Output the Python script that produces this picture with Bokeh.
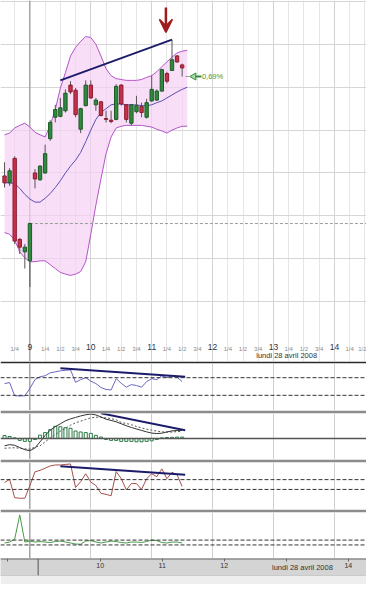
import math
from bokeh.plotting import figure
from bokeh.layouts import column
from bokeh.models import (Range1d, LinearAxis, FixedTicker, Grid, Span, Label,
                          Arrow, VeeHead, ColumnDataSource)
from bokeh.embed import file_html
from bokeh.resources import INLINE

FONT = "Liberation Sans"

# ---------------- data ----------------
times = ["25/04 17:05", "25/04 17:10", "25/04 17:15", "25/04 17:20", "25/04 17:25",
         "28/04 09:00", "28/04 09:05", "28/04 09:10", "28/04 09:15", "28/04 09:20",
         "28/04 09:25", "28/04 09:30", "28/04 09:35", "28/04 09:40", "28/04 09:45",
         "28/04 09:50", "28/04 09:55", "28/04 10:00", "28/04 10:05", "28/04 10:10",
         "28/04 10:15", "28/04 10:20", "28/04 10:25", "28/04 10:30", "28/04 10:35",
         "28/04 10:40", "28/04 10:45", "28/04 10:50", "28/04 10:55", "28/04 11:00",
         "28/04 11:05", "28/04 11:10", "28/04 11:15", "28/04 11:20", "28/04 11:25",
         "28/04 11:30"]

opens = [4979.3, 4977.7, 4983.4, 4964.5, 4961.6,
         4959.5, 4980.0, 4978.4, 4980.0, 4988.0, 4993.0, 4993.2, 4994.5, 5000.5, 4999.3,
         4990.2, 4995.7, 5000.5, 4995.9, 4996.6, 4992.7, 4992.3, 4992.5, 5000.5, 4995.9,
         4991.6, 4994.3, 4995.5, 4993.0, 4996.8, 4997.0, 4999.1, 5003.2, 5003.9, 5007.3, 5005.2]
highs = [4982.5, 4981.1, 4983.9, 4964.8, 4963.4,
         4968.4, 4980.9, 4981.8, 4986.6, 4992.3, 4995.9, 4997.5, 4999.5, 5001.4, 4999.8,
         4995.2, 5001.6, 5001.6, 4997.5, 4996.8, 4994.5, 4994.5, 5000.7, 5000.7, 4996.1,
         4996.1, 4998.0, 4996.4, 4997.3, 5002.7, 4999.5, 5004.3, 5003.6, 5011.1, 5007.5, 5005.5]
lows = [4976.6, 4977.0, 4963.4, 4961.1, 4957.7,
        4953.4, 4976.4, 4978.2, 4979.8, 4987.5, 4991.8, 4993.0, 4994.1, 4998.4, 4993.0,
        4989.3, 4995.5, 4997.3, 4994.5, 4993.2, 4991.8, 4991.6, 4992.3, 4995.7, 4991.8,
        4991.1, 4993.9, 4993.0, 4992.7, 4996.6, 4996.8, 4998.9, 5000.9, 5003.9, 5005.7, 5002.5]
closes = [4977.7, 4980.5, 4964.1, 4962.7, 4962.7,
          4968.2, 4978.6, 4981.6, 4984.5, 4991.8, 4994.8, 4995.2, 4998.6, 4998.9, 4993.6,
          4995.0, 5000.5, 4997.5, 4997.0, 4993.4, 4992.5, 4992.0, 5000.2, 4996.1, 4992.5,
          4995.9, 4995.7, 4994.1, 4996.4, 4999.5, 4999.1, 5004.1, 5001.4, 5006.4, 5005.9, 5004.5]

band_times = times + ["28/04 11:35"]
boll_upper = [4988.9, 4989.3, 4990.5, 4991.1, 4991.6,
              4990.7, 4989.5, 4988.9, 4988.4, 4991.1, 4994.8, 4999.8, 5003.4, 5007.3, 5009.3,
              5010.7, 5011.8, 5011.6, 5010.0, 5007.3, 5004.3, 5002.7, 5002.0, 5001.8, 5001.6,
              5001.6, 5001.6, 5001.8, 5002.3, 5002.7, 5003.6, 5004.8, 5005.9, 5007.0, 5008.0,
              5008.4, 5008.6]
boll_mid = [4977.7, 4977.7, 4977.5, 4976.4, 4975.0,
            4973.9, 4973.2, 4973.2, 4974.1, 4975.2, 4976.6, 4978.2, 4980.0, 4981.6, 4983.0,
            4984.8, 4987.3, 4990.0, 4992.5, 4994.1, 4995.0, 4995.9, 4996.1, 4996.1, 4995.9,
            4995.9, 4995.9, 4995.7, 4995.7, 4995.9, 4996.4, 4996.8, 4997.5, 4998.2, 4998.9,
            4999.5, 5000.0]
boll_lower = [4966.1, 4965.7, 4964.3, 4961.6, 4960.2,
              4959.3, 4959.3, 4959.5, 4959.5, 4958.6, 4957.7, 4956.8, 4956.4, 4956.1, 4956.4,
              4957.0, 4959.3, 4965.7, 4972.5, 4978.6, 4984.5, 4988.4, 4990.5, 4990.9, 4991.1,
              4991.1, 4991.1, 4991.1, 4990.9, 4990.7, 4990.2, 4989.8, 4989.3, 4990.0, 4990.5,
              4990.9, 4990.9]

prev_close = 4968.2
last_price = 5002.5
change_text = "0,69%"
date_text = "lundi 28 avril 2008"

trend_main_t = ["28/04 09:30", "28/04 11:20"]
trend_main_v = [5001.6, 5011.1]
arrow_time = "28/04 11:14"
arrow_from, arrow_to = 5018.6, 5012.8

rsi = [56.7, 58.9, 29.0, 28.5, 29.0,
       45.6, 65.6, 72.2, 74.4, 81.1, 83.3, 85.6, 86.7, 87.8, 59.6,
       65.6, 70.0, 62.2, 56.7, 47.8, 43.3, 42.2, 67.8, 57.3, 48.4,
       54.4, 52.2, 48.4, 61.1, 67.8, 65.6, 74.4, 70.0, 74.4, 71.1, 61.1]
rsi_levels = [70, 30]
trend_rsi_t = ["28/04 09:30", "28/04 11:33"]
trend_rsi_v = [91.6, 72.2]

macd = [-3.75, -3.15, -3.5, -4.65, -5.75,
        -6.25, -4.85, -1.75, 1.5, 4.25, 6.0, 7.5, 9.0, 10.0, 10.75,
        11.5, 12.1, 12.5, 12.0, 11.0, 9.85, 9.2, 8.5, 7.5, 6.5,
        5.6, 4.85, 4.1, 3.35, 2.75, 2.5, 2.7, 3.35, 3.85, 4.1, 4.15]
macd_signal = [-5.0, -4.85, -4.75, -5.0, -5.3,
               -5.5, -4.4, -3.75, -1.75, 0.25, 2.0, 3.75, 5.25, 6.75, 8.0,
               8.85, 9.75, 10.5, 10.85, 10.75, 10.5, 10.15, 9.5, 8.15, 7.65,
               7.0, 6.1, 5.4, 4.75, 4.25, 3.75, 3.4, 3.2, 3.3, 3.5, 3.6]
macd_hist = [1.5, 1.0, 0.3, -1.0, -1.5,
             -1.5, -0.5, 1.7, 3.0, 4.5, 6.2, 6.0, 5.5, 5.2, 3.8,
             3.3, 3.0, 2.6, 1.6, 0.7, -0.5, -1.0, -1.0, -1.5, -1.5,
             -1.5, -1.7, -1.7, -1.5, -1.2, -0.5, 0.3, 0.5, 0.6, 0.7, 0.7]
trend_macd_t = ["28/04 10:10", "28/04 11:33"]
trend_macd_v = [12.85, 4.15]

osc = [40, 106, -270, -280, -280,
       -20, 260, 290, 334, 380, 400, 400, 410, 420, -60,
       60, 220, 50, -20, -180, -200, -230, 266, 120, -110,
       20, 20, -100, 120, 220, 160, 320, 120, 250, 200, -40]
osc_levels = [100, -100]
trend_osc_t = ["28/04 09:30", "28/04 11:33"]
trend_osc_v = [374, 200]

vol = [28, 30, 36, 86, 30,
       32, 30, 31, 30, 29, 31, 32, 30, 28, 26,
       25.4, 32, 33, 30, 28, 30, 32, 31, 29, 28,
       30, 30, 29, 31, 34, 33, 29, 28, 30, 30, 28]
vol_levels = [34, 24]

hour_ticks = ["25/04 17:00", "28/04 09:00", "28/04 10:00", "28/04 11:00", "28/04 12:00",
              "28/04 13:00", "28/04 14:00"]
hour_labels = ["17", "9", "10", "11", "12", "13", "14"]
quarter_ticks = ["25/04 17:15", "28/04 09:15", "28/04 09:30", "28/04 09:45",
                 "28/04 10:15", "28/04 10:30", "28/04 10:45", "28/04 11:15", "28/04 11:30",
                 "28/04 11:45", "28/04 12:15", "28/04 12:30", "28/04 12:45", "28/04 13:15",
                 "28/04 13:30", "28/04 13:45", "28/04 14:15", "28/04 14:30"]
quarter_labels = ["1/4", "1/4", "1/2", "3/4", "1/4", "1/2", "3/4", "1/4", "1/2", "3/4",
                  "1/4", "1/2", "3/4", "1/4", "1/2", "3/4", "1/4", "1/2"]
price_grid = [4950, 4960, 4970, 4980, 4990, 5000, 5010, 5020]

nav_ticks = [8.5, 10, 11, 12, 13, 14]
nav_labels = ["", "10", "11", "12", "", "14"]
nav_date_hour = 13.26


# ---------------- helpers ----------------
def smin(t):
    """session minutes: 28/04 09:00 -> 0, previous session glued on the left"""
    day, hm = t.split()
    h, m = (int(v) for v in hm.split(":"))
    if day == "25/04":
        return h * 60 + m - (17 * 60 + 30)
    return h * 60 + m - 9 * 60


x = [smin(t) for t in times]
bx = [smin(t) for t in band_times]
hx = [smin(t) for t in hour_ticks]
qx = [smin(t) for t in quarter_ticks]

W = 366
xr = Range1d(-28.98, 331.64)


def base_fig(height, yr, top_border=0, border_color="white"):
    f = figure(width=W, height=height, x_range=xr, y_range=yr,
               x_axis_type=None, y_axis_type=None, toolbar_location=None,
               output_backend="svg", min_border=0, min_border_top=top_border,
               border_fill_color=border_color, outline_line_color=None,
               background_fill_color="white")
    return f


# ---------------- main price panel ----------------
main = base_fig(361, Range1d(4936.02, 5020.23))
main.add_layout(Grid(dimension=0, ticker=FixedTicker(ticks=hx, minor_ticks=qx),
                     grid_line_color="#d2d2d2", minor_grid_line_color="#e6e6e6"))
main.add_layout(Grid(dimension=1, ticker=FixedTicker(ticks=price_grid),
                     grid_line_color="#d6d6d6"))
main.add_layout(Span(location=0, dimension="height", line_color="#8a8a8a",
                     line_width=1, level="underlay"))

main.varea(x=bx, y1=boll_lower, y2=boll_upper, fill_color="#f6d0f4", fill_alpha=0.7)
main.line(bx, boll_upper, line_color="#b455c8", line_width=1)
main.line(bx, boll_lower, line_color="#b455c8", line_width=1)
main.line(bx, boll_mid, line_color="#5a4fb5", line_width=1)

main.ray(x=[0], y=[prev_close], length=0, angle=0, line_color="#9a9a9a",
         line_dash="3 2", line_width=1)

inc = [c >= o for o, c in zip(opens, closes)]
src = ColumnDataSource(dict(
    x=x, high=highs, low=lows,
    top=[max(o, c) for o, c in zip(opens, closes)],
    bottom=[min(o, c) for o, c in zip(opens, closes)],
    fill=["#2f8a3e" if u else "#c8304a" for u in inc],
    edge=["#1f5a28" if u else "#8a1c30" for u in inc],
))
main.segment(x0="x", y0="high", x1="x", y1="low", source=src, line_color="#555555",
             line_width=1)
main.vbar(x="x", width=3.3, top="top", bottom="bottom", source=src,
          fill_color="fill", line_color="edge", line_width=1)

main.line([smin(t) for t in trend_main_t], trend_main_v, line_color="#1c1c6a",
          line_width=2)

ax_t = smin(arrow_time)
main.add_layout(Arrow(x_start=ax_t, y_start=arrow_from, x_end=ax_t, y_end=arrow_to,
                      line_color="#a01c1c", line_width=2.5,
                      end=VeeHead(size=13, line_color="#a01c1c", fill_color="#a01c1c",
                                  line_width=1.5)))

last_t = x[-1]
main.segment(x0=[last_t + 3.3], y0=[last_price], x1=[last_t + 7], y1=[last_price],
             line_color="#999999", line_width=1)
main.scatter(x=[last_t + 11.5], y=[last_price], marker="triangle", size=7,
             angle=math.pi / 2, fill_color="#a8dca8", line_color="#3a8a3a")
main.segment(x0=[last_t + 13], y0=[last_price], x1=[last_t + 19], y1=[last_price],
             line_color="#3a8a3a", line_width=2)
main.add_layout(Label(x=last_t + 19.5, y=last_price, text=change_text,
                      text_font=FONT, text_font_size="7.5px", text_color="#3c9a3c",
                      text_baseline="middle", text_align="left"))

hour_axis = LinearAxis(ticker=FixedTicker(ticks=hx),
                       major_label_overrides={v: l for v, l in zip(hx, hour_labels)},
                       fixed_location=4940.1, axis_line_color=None,
                       major_tick_line_color=None, minor_tick_line_color=None,
                       major_tick_out=0, major_tick_in=0,
                       major_label_text_font=FONT, major_label_text_font_size="8.5px",
                       major_label_text_color="#333333", major_label_standoff=0)
quarter_axis = LinearAxis(ticker=FixedTicker(ticks=qx),
                          major_label_overrides={v: l for v, l in zip(qx, quarter_labels)},
                          fixed_location=4940.1, axis_line_color=None,
                          major_tick_line_color=None, minor_tick_line_color=None,
                          major_tick_out=0, major_tick_in=0,
                          major_label_text_font=FONT, major_label_text_font_size="6px",
                          major_label_text_color="#8a8a8a", major_label_standoff=2)
main.add_layout(hour_axis, "below")
main.add_layout(quarter_axis, "below")
main.add_layout(Label(x=223.0, y=4937.5, text=date_text, text_font=FONT,
                      text_font_size="7.5px", text_color="#333333",
                      text_baseline="middle", text_align="left"))


def hour_grid(f):
    f.add_layout(Grid(dimension=0, ticker=FixedTicker(ticks=hx), grid_line_color="#cfcfcf"))
    f.add_layout(Span(location=0, dimension="height", line_color="#8a8a8a",
                      line_width=1, level="underlay"))


# ---------------- RSI ----------------
prsi = base_fig(49, Range1d(-4.4, 102.2), top_border=2, border_color="#2a2a2a")
hour_grid(prsi)
for lv in rsi_levels:
    prsi.add_layout(Span(location=lv, dimension="width", line_color="#333333",
                         line_dash="4 2", line_width=1))
prsi.line(x, rsi, line_color="#6a68c4", line_width=1)
prsi.line([smin(t) for t in trend_rsi_t], trend_rsi_v, line_color="#1c1c6a", line_width=2)

# ---------------- MACD ----------------
pmacd = base_fig(49, Range1d(-10.75, 12.75), top_border=3, border_color="#8c8c8c")
hour_grid(pmacd)
pmacd.add_layout(Span(location=0, dimension="width", line_color="#555555", line_width=1.5))
hsrc = ColumnDataSource(dict(x=x, top=[max(h, 0) for h in macd_hist],
                             bottom=[min(h, 0) for h in macd_hist]))
pmacd.vbar(x="x", width=3.0, top="top", bottom="bottom", source=hsrc,
           fill_color="white", line_color="#2a7a46", line_width=1)
pmacd.line(x, macd_signal, line_color="#555555", line_dash="2 2", line_width=1)
pmacd.line(x, macd, line_color="#333333", line_width=1)
pmacd.line([smin(t) for t in trend_macd_t], trend_macd_v, line_color="#1c1c6a",
           line_width=2)

# ---------------- oscillator ----------------
posc = base_fig(50, Range1d(-510, 450), top_border=3, border_color="#8c8c8c")
hour_grid(posc)
for lv in osc_levels:
    posc.add_layout(Span(location=lv, dimension="width", line_color="#333333",
                         line_dash="4 2", line_width=1))
posc.line(x, osc, line_color="#a4504c", line_width=1)
posc.line([smin(t) for t in trend_osc_t], trend_osc_v, line_color="#1c1c6a", line_width=2)

# ---------------- volatility / volume line ----------------
pvol = base_fig(49, Range1d(-4, 91), top_border=3, border_color="#8c8c8c")
hour_grid(pvol)
for lv in vol_levels:
    pvol.add_layout(Span(location=lv, dimension="width", line_color="#333333",
                         line_dash="4 2", line_width=1))
pvol.line(x, vol, line_color="#4a9a4a", line_width=1)

# ---------------- navigator ----------------
nav = figure(width=W, height=26, x_range=Range1d(8.393, 14.293), y_range=Range1d(0, 1),
             x_axis_type=None, y_axis_type=None, toolbar_location=None,
             output_backend="svg", min_border=0, min_border_bottom=9,
             border_fill_color="#eeeeee", outline_line_color=None,
             background_fill_color="#d4d4d4")
nav.add_layout(Span(location=1, dimension="width", line_color="#666666", line_width=2))
nav.add_layout(Span(location=0, dimension="width", line_color="#b0b0b0", line_width=1))
nav.add_layout(Span(location=9, dimension="height", line_color="#555555", line_width=1))
nav_axis = LinearAxis(ticker=FixedTicker(ticks=nav_ticks),
                      major_label_overrides={v: l for v, l in zip(nav_ticks, nav_labels)},
                      fixed_location=1.0, axis_line_color=None,
                      major_tick_line_color="#666666", major_tick_out=3, major_tick_in=0,
                      minor_tick_line_color=None, major_label_text_font=FONT,
                      major_label_text_font_size="7px", major_label_text_color="#333333",
                      major_label_standoff=1)
nav.add_layout(nav_axis, "below")
nav.add_layout(Label(x=nav_date_hour, y=0.5, text=date_text, text_font=FONT,
                     text_font_size="7.5px", text_color="#333333",
                     text_baseline="middle", text_align="center"))

layout = column(main, prsi, pmacd, posc, pvol, nav, spacing=0)
open("out.html", "w").write(file_html(layout, INLINE))
